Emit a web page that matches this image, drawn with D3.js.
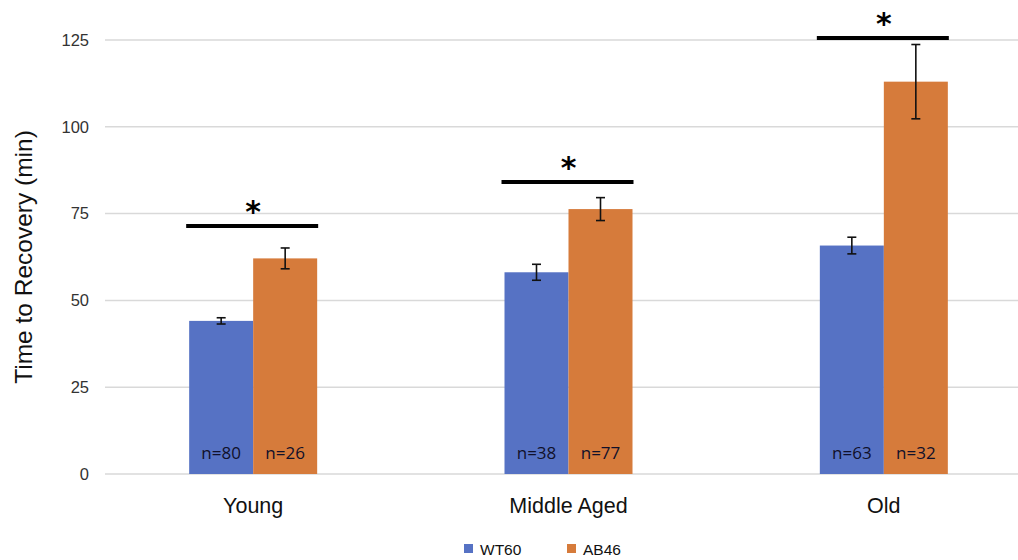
<!DOCTYPE html>
<html><head><meta charset="utf-8">
<script src="https://cdn.jsdelivr.net/npm/d3@7"></script>
<style>body{margin:0;background:#fff}svg{display:block}</style>
</head><body>
<svg id="c" width="1018" height="560"></svg>
<script>
const categories = ["Young", "Middle Aged", "Old"];
const seriesNames = ["WT60", "AB46"];
const wt60 = [44.1, 58.1, 65.8];
const ab46 = [62.1, 76.3, 113.0];
const wt60Err = [0.9, 2.3, 2.4];
const ab46Err = [3.0, 3.3, 10.7];
const wt60N = ["n=80", "n=38", "n=63"];
const ab46N = ["n=26", "n=77", "n=32"];
const sigLevel = [71.4, 84.1, 125.6];
const yTicks = [0, 25, 50, 75, 100, 125];
const colors = ["#5672c4", "#d67b3b"];

const svg = d3.select("#c");
const x = d3.scaleBand().domain(categories).range([95.5, 1041.5]);
const y = d3.scaleLinear().domain([0, 125]).range([474, 40]);
const groupW = 128;
const xs = d3.scaleBand().domain(seriesNames).range([0, groupW]);

// gridlines
svg.append("g").selectAll("line").data(yTicks).join("line")
  .attr("x1", 105).attr("x2", 1018)
  .attr("y1", d => y(d)).attr("y2", d => y(d))
  .attr("stroke", "#d9d9d9").attr("stroke-width", 1.5);

// y axis labels
const yAxis = d3.axisLeft(y).tickValues(yTicks).tickSize(0).tickPadding(0);
const ga = svg.append("g").attr("transform", "translate(89,0)").call(yAxis);
ga.select(".domain").remove();
ga.selectAll("text").attr("font-family", "Liberation Sans, Arial, sans-serif")
  .attr("font-size", 16.5).attr("fill", "#333");

svg.append("text").attr("transform", "translate(32,257) rotate(-90)")
  .attr("text-anchor", "middle").attr("font-family", "Liberation Sans, Arial, sans-serif")
  .attr("font-size", 24.5).attr("fill", "#111").text("Time to Recovery (min)");

// bars
const rows = categories.map((c, i) => [
  {c, s: "WT60", v: wt60[i], e: wt60Err[i], n: wt60N[i], k: 0},
  {c, s: "AB46", v: ab46[i], e: ab46Err[i], n: ab46N[i], k: 1}
]).flat();
const bx = d => x(d.c) + x.bandwidth() / 2 - groupW / 2 + xs(d.s);

svg.append("g").selectAll("rect").data(rows).join("rect")
  .attr("x", bx).attr("width", xs.bandwidth())
  .attr("y", d => y(d.v)).attr("height", d => y(0) - y(d.v))
  .attr("fill", d => colors[d.k]);

// error bars
const eb = svg.append("g").attr("stroke", "#111").attr("stroke-width", 1.6);
rows.forEach(d => {
  const cx = bx(d) + xs.bandwidth() / 2;
  eb.append("line").attr("x1", cx).attr("x2", cx).attr("y1", y(d.v + d.e)).attr("y2", y(d.v - d.e));
  eb.append("line").attr("x1", cx - 4.5).attr("x2", cx + 4.5).attr("y1", y(d.v + d.e)).attr("y2", y(d.v + d.e));
  eb.append("line").attr("x1", cx - 4.5).attr("x2", cx + 4.5).attr("y1", y(d.v - d.e)).attr("y2", y(d.v - d.e));
});

// n labels
svg.append("g").selectAll("text").data(rows).join("text")
  .attr("x", d => bx(d) + xs.bandwidth() / 2).attr("y", 459)
  .attr("text-anchor", "middle").attr("font-family", "Open Sans, Noto Sans, sans-serif")
  .attr("font-size", 17).attr("fill", "#10102a").text(d => d.n);

// significance
categories.forEach((c, i) => {
  const x0 = x(c) + x.bandwidth() / 2 - groupW / 2;
  svg.append("line").attr("x1", x0 - 3).attr("x2", x0 + groupW + 1)
    .attr("y1", y(sigLevel[i])).attr("y2", y(sigLevel[i]))
    .attr("stroke", "#000").attr("stroke-width", 4);
  svg.append("text").attr("x", x0 + groupW / 2).attr("y", y(sigLevel[i]) - 4)
    .attr("text-anchor", "middle").attr("font-family", "DejaVu Sans, sans-serif")
    .attr("font-weight", "bold").attr("font-size", 30).attr("fill", "#000").text("*");
});

// category labels
svg.append("g").selectAll("text").data(categories).join("text")
  .attr("x", d => x(d) + x.bandwidth() / 2).attr("y", 513)
  .attr("text-anchor", "middle").attr("font-family", "Liberation Sans, Arial, sans-serif")
  .attr("font-size", 21.5).attr("fill", "#111").text(d => d);

// legend
const leg = svg.append("g");
const legX = [464, 567];
seriesNames.forEach((s, i) => {
  leg.append("rect").attr("x", legX[i]).attr("y", 544).attr("width", 9).attr("height", 9).attr("fill", colors[i]);
  leg.append("text").attr("x", legX[i] + 16).attr("y", 555)
    .attr("font-family", "Liberation Sans, Arial, sans-serif").attr("font-size", 15.5).attr("fill", "#111").text(s);
});
</script>
</body></html>
